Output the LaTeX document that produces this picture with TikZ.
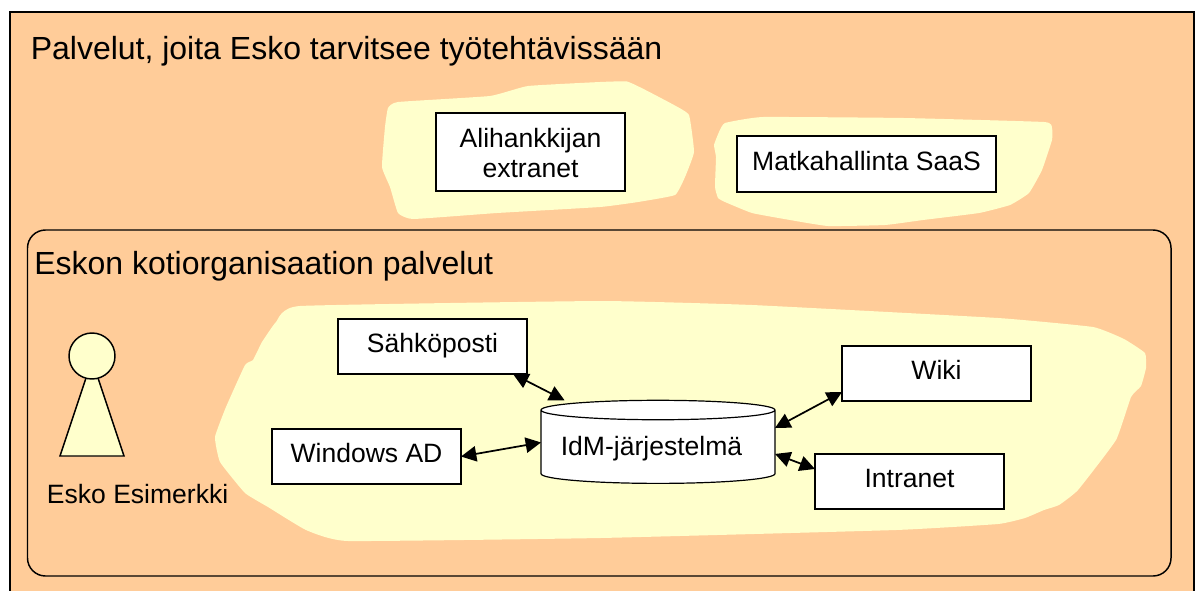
\documentclass[tikz,border=0pt]{standalone}
\usepackage{fontspec}
\setmainfont{Liberation Sans}
\usetikzlibrary{arrows.meta,shapes.geometric}
\definecolor{orangebg}{HTML}{FFCC99}
\definecolor{yellowbg}{HTML}{FFFFCC}
\tikzset{
  x=0.75pt,y=-0.75pt,
  blob/.style={fill=yellowbg,draw=none},
  servicebox/.style={draw=black,fill=white,line width=1.2pt,rectangle,inner sep=0pt,outer sep=0pt,
    minimum width=141.75pt,minimum height=41.25pt,text height=25.1pt,text depth=16.1pt,font=\fontsize{19.9pt}{22.5pt}\selectfont,align=center},
  heading/.style={anchor=base west,inner sep=0pt,font=\fontsize{24pt}{28pt}\selectfont},
  caption/.style={anchor=base,inner sep=0pt,font=\fontsize{19.9pt}{22.5pt}\selectfont},
  link/.style={draw=black,line width=1.3pt,{Triangle[length=11.5pt,width=11.5pt]}-{Triangle[length=11.5pt,width=11.5pt]}},
}
\begin{document}
\begin{tikzpicture}
\useasboundingbox (0,0) rectangle (1195,590);
\clip (0,0) rectangle (1195,590);
\fill[white] (0,0) rectangle (1195,590);
% outer panel
\draw[fill=orangebg,line width=1.1pt] (10,12) rectangle (1194,620);
\node[heading] (title) at (30.5,59.8) {Palvelut, joita Esko tarvitsee työtehtävissään};
% blobs
\fill[blob] plot[smooth cycle,tension=0.22] coordinates {(398,102) (490,96) (528,86) (600,82) (627,81.5) (645.5,90) (674,105) (689,115) (694,152) (685,177) (675,195) (638,202) (600,207) (497,213) (413,219) (398,213) (390,187) (382,167) (385,127) (388,108)};
\fill[blob] plot[smooth cycle,tension=0.22] coordinates {(725,123) (763,117) (904,118) (1044,122) (1052,128) (1052,140) (1042,170) (1029,193) (1010,205) (979,213) (923,220) (885,225) (828,226) (790,220) (752,213) (725,202) (718,198) (715,187) (716,157) (714,145) (719,132)};
\node[servicebox,minimum width=141.75pt,minimum height=58.5pt,text height=48pt,text depth=10.5pt] (ali) at (530.5,152) {Alihankkijan\\extranet};
\node[servicebox,minimum width=194.25pt,minimum height=42pt] (matka) at (866.5,164) {Matkahallinta SaaS};
% inner panel
\draw[line width=1.1pt,rounded corners=13.5pt] (27.5,230) rectangle (1171,576);
\node[heading] (koti) at (34,274.5) {Eskon kotiorganisaation palvelut};
\fill[blob] plot[smooth cycle,tension=0.22] coordinates {(300,306) (600,301) (752,305) (998,318) (1093,327) (1124,339) (1145,353) (1146,368) (1141,386) (1131,397) (1116,440) (1078,490) (1059,505) (1044,510) (1025,518) (998,524) (896,530) (600,538) (348,541) (306,530) (268,507) (245,493) (220,462) (215,437) (226,407) (245,365) (253,360) (262,342) (276,322)};
% person
\draw[fill=yellowbg,line width=1.1pt] (92,360) -- (124,456) -- (60,456) -- cycle;
\draw[fill=yellowbg,line width=1.1pt] (92,356) circle [radius=23];
\node[caption] (esko) at (137.6,503.5) {Esko Esimerkki};
% services
\node[servicebox] (sahko) at (432.5,346.5) {Sähköposti};
\node[servicebox] (win) at (366.5,456.5) {Windows AD};
\node[servicebox] (wiki) at (936.5,373.5) {Wiki};
\node[servicebox] (intra) at (909.5,481.5) {Intranet};
\node[draw=black,fill=white,line width=0.9pt,cylinder,shape border rotate=90,aspect=0.1,inner sep=0pt,outer sep=0pt,
  minimum width=175.5pt,minimum height=57pt,font=\fontsize{19.9pt}{22.5pt}\selectfont] (idm) at (658,447) {\raisebox{-6.7pt}[20pt][20pt]{IdM-järjestelmä\hspace*{9.75pt}}};
% links
\draw[link] ([xshift=60.4pt]sahko.south) -- ([xshift=-70.1pt]idm.north);
\draw[link] (win.east) -- ([yshift=3.4pt]idm.west);
\draw[link] ([yshift=-13.9pt]wiki.west) -- ([yshift=14.3pt]idm.east);
\draw[link] ([yshift=-5.2pt]idm.east) -- ([yshift=9.4pt]intra.west);
\end{tikzpicture}
\end{document}
